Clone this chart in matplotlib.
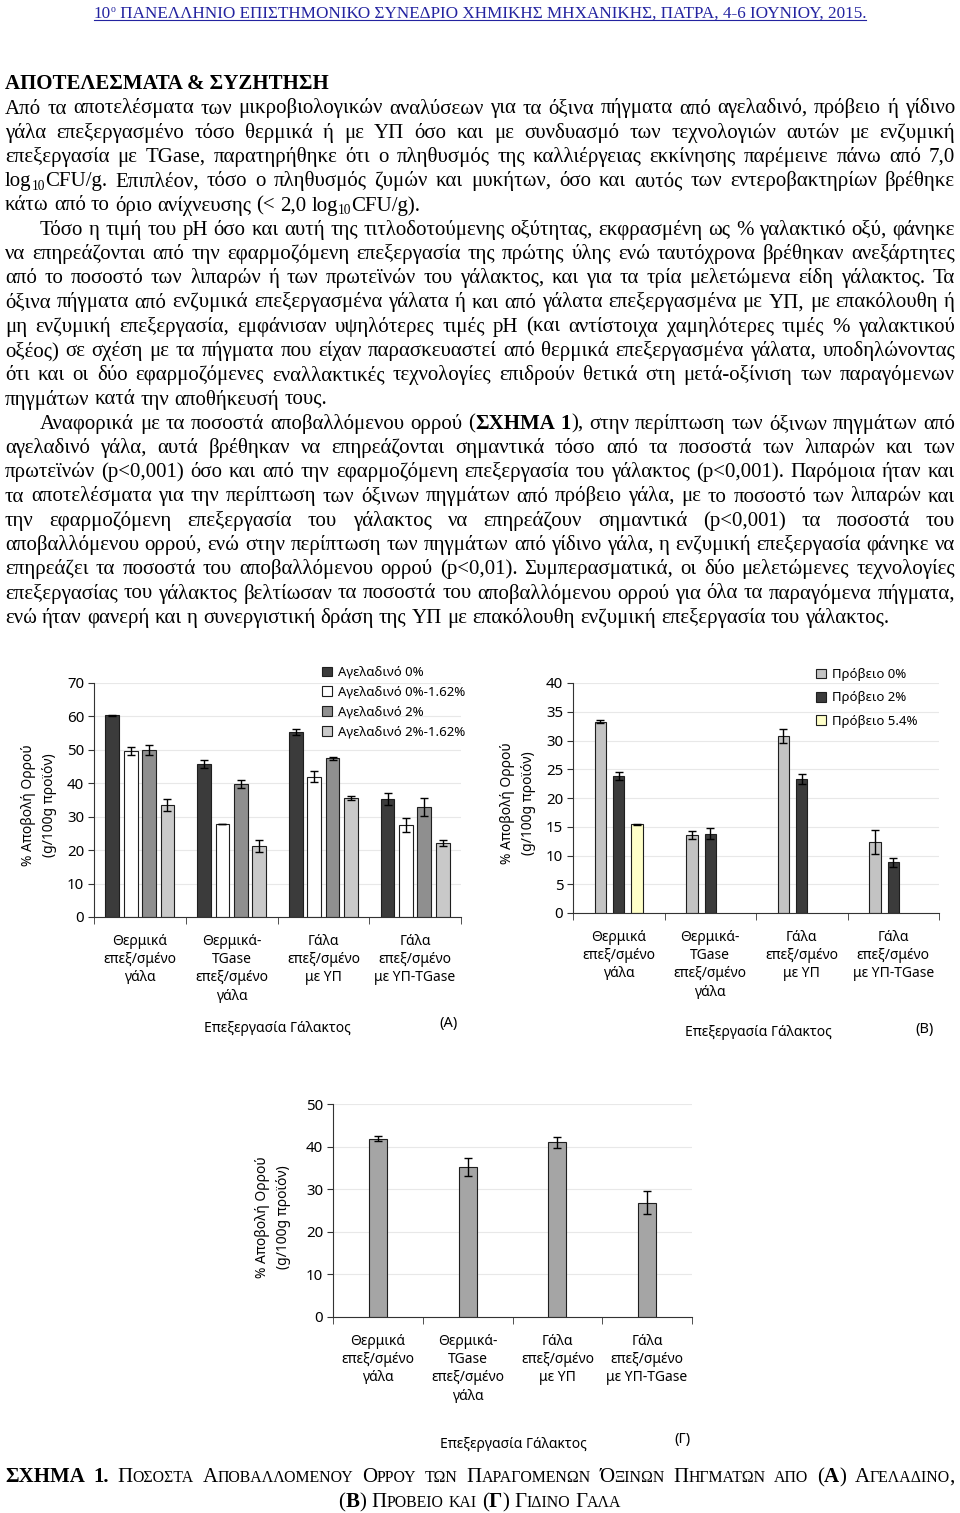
import unicodedata
import matplotlib
matplotlib.use("Agg")
import matplotlib.pyplot as plt

W, H = 960, 1513
SERIF = "Liberation Serif"
SANS = "Noto Sans"
plt.rcParams["font.family"] = [SANS, "DejaVu Sans"]

# ---- chart data ----
categories = ["Θερμικά\nεπεξ/σμένο\nγάλα", "Θερμικά-\nTGase\nεπεξ/σμένο\nγάλα",
              "Γάλα\nεπεξ/σμένο\nμε ΥΠ", "Γάλα\nεπεξ/σμένο\nμε ΥΠ-TGase"]

cow_names = ["Αγελαδινό 0%", "Αγελαδινό 0%-1.62%", "Αγελαδινό 2%", "Αγελαδινό 2%-1.62%"]
cow_vals = [[60.3, 45.7, 55.3, 35.3],
            [49.7, 27.8, 42.0, 27.5],
            [50.0, 39.7, 47.5, 33.0],
            [33.5, 21.2, 35.6, 22.1]]
cow_errs = [[0.1, 1.2, 0.8, 1.8],
            [1.2, 0.1, 1.6, 2.0],
            [1.5, 1.2, 0.5, 2.7],
            [1.8, 1.8, 0.7, 0.8]]
cow_colors = ["#3b3b3b", "#ffffff", "#8f8f8f", "#c9c9c9"]

sheep_names = ["Πρόβειο 0%", "Πρόβειο 2%", "Πρόβειο 5.4%"]
sheep_vals = [[33.3, 13.6, 30.8, 12.3],
              [23.8, 13.8, 23.3, 8.8],
              [15.4, float("nan"), float("nan"), float("nan")]]
sheep_errs = [[0.3, 0.7, 1.2, 2.1],
              [0.75, 1.0, 0.8, 0.8],
              [0.15, 0, 0, 0]]
sheep_colors = ["#c3c3c3", "#3b3b3b", "#ffffc8"]

goat_vals = [41.8, 35.2, 41.0, 26.8]
goat_errs = [0.6, 2.2, 1.3, 2.7]
goat_color = "#a5a5a5"

ylabel = "% Αποβολή Ορρού\n(g/100g προϊόν)"
xlabel = "Επεξεργασία Γάλακτος"

# ---- page text ----
heading = "ΑΠΟΤΕΛΕΣΜΑΤΑ & ΣΥΖΗΤΗΣΗ"
body = [
    (0, True, "Από τα αποτελέσματα των μικροβιολογικών αναλύσεων για τα όξινα πήγματα από αγελαδινό, πρόβειο ή γίδινο"),
    (0, True, "γάλα επεξεργασμένο τόσο θερμικά ή με ΥΠ όσο και με συνδυασμό των τεχνολογιών αυτών με ενζυμική"),
    (0, True, "επεξεργασία με TGase, παρατηρήθηκε ότι ο πληθυσμός της καλλιέργειας εκκίνησης παρέμεινε πάνω από 7,0"),
    (0, True, "log{10}CFU/g. Επιπλέον, τόσο ο πληθυσμός ζυμών και μυκήτων, όσο και αυτός των εντεροβακτηρίων βρέθηκε"),
    (0, False, "κάτω από το όριο ανίχνευσης (< 2,0 log{10}CFU/g)."),
    (1, True, "Τόσο η τιμή του pH όσο και αυτή της τιτλοδοτούμενης οξύτητας, εκφρασμένη ως % γαλακτικό οξύ, φάνηκε"),
    (0, True, "να επηρεάζονται από την εφαρμοζόμενη επεξεργασία της πρώτης ύλης ενώ ταυτόχρονα βρέθηκαν ανεξάρτητες"),
    (0, True, "από το ποσοστό των λιπαρών ή των πρωτεϊνών του γάλακτος, και για τα τρία μελετώμενα είδη γάλακτος. Τα"),
    (0, True, "όξινα πήγματα από ενζυμικά επεξεργασμένα γάλατα ή και από γάλατα επεξεργασμένα με ΥΠ, με επακόλουθη ή"),
    (0, True, "μη ενζυμική επεξεργασία, εμφάνισαν υψηλότερες τιμές pH (και αντίστοιχα χαμηλότερες τιμές % γαλακτικού"),
    (0, True, "οξέος) σε σχέση με τα πήγματα που είχαν παρασκευαστεί από θερμικά επεξεργασμένα γάλατα, υποδηλώνοντας"),
    (0, True, "ότι και οι δύο εφαρμοζόμενες εναλλακτικές τεχνολογίες επιδρούν θετικά στη μετά-οξίνιση των παραγόμενων"),
    (0, False, "πηγμάτων κατά την αποθήκευσή τους."),
    (1, True, "Αναφορικά με τα ποσοστά αποβαλλόμενου ορρού (*ΣΧΗΜΑ* *1*), στην περίπτωση των όξινων πηγμάτων από"),
    (0, True, "αγελαδινό γάλα, αυτά βρέθηκαν να επηρεάζονται σημαντικά τόσο από τα ποσοστά των λιπαρών και των"),
    (0, True, "πρωτεϊνών (p<0,001) όσο και από την εφαρμοζόμενη επεξεργασία του γάλακτος (p<0,001). Παρόμοια ήταν και"),
    (0, True, "τα αποτελέσματα για την περίπτωση των όξινων πηγμάτων από πρόβειο γάλα, με το ποσοστό των λιπαρών και"),
    (0, True, "την εφαρμοζόμενη επεξεργασία του γάλακτος να επηρεάζουν σημαντικά (p<0,001) τα ποσοστά του"),
    (0, True, "αποβαλλόμενου ορρού, ενώ στην περίπτωση των πηγμάτων από γίδινο γάλα, η ενζυμική επεξεργασία φάνηκε να"),
    (0, True, "επηρεάζει τα ποσοστά του αποβαλλόμενου ορρού (p<0,01). Συμπερασματικά, οι δύο μελετώμενες τεχνολογίες"),
    (0, True, "επεξεργασίας του γάλακτος βελτίωσαν τα ποσοστά του αποβαλλόμενου ορρού για όλα τα παραγόμενα πήγματα,"),
    (0, False, "ενώ ήταν φανερή και η συνεργιστική δράση της ΥΠ με επακόλουθη ενζυμική επεξεργασία του γάλακτος."),
]
caption1 = "*ΣΧΗΜΑ* *1.* Ποσοστα Αποβαλλομενου Ορρου των Παραγομενων Όξινων Πηγματων απο (*Α*) Αγελαδινο,"
caption2 = "(*Β*) Προβειο και (*Γ*) Γιδινο Γαλα"

fig = plt.figure(figsize=(9.6, 15.13), dpi=100)
renderer = fig.canvas.get_renderer()


def fx(x):
    return x / W


def fy(y):
    return 1 - y / H


def parse(word, size, sc=False):
    # * toggles bold, {..} is a subscript, sc = small caps
    segs = []
    bold = sub = False
    for ch in unicodedata.normalize("NFC", word):
        if ch == "*":
            bold = not bold
            continue
        if ch == "{":
            sub = True
            continue
        if ch == "}":
            sub = False
            continue
        sz, c = size, ch
        if sub:
            sz = size * 0.65
        elif sc and ch.islower():
            sz, c = size * 0.76, ch.upper()
        key = (sz, "bold" if bold else "normal", 4 if sub else 0)
        if segs and segs[-1][1:] == key:
            segs[-1] = (segs[-1][0] + c,) + key
        else:
            segs.append((c,) + key)
    return segs


def draw_line(y, x0, x1, text, size, justify=True, center=False, sc=False):
    words = []
    for wd in text.split():
        items = []
        for s, sz, wt, dy in parse(wd, size, sc):
            t = fig.text(0, 0, s, fontsize=sz, fontweight=wt, family=SERIF, va="baseline")
            items.append((t, t.get_window_extent(renderer).width, dy))
        words.append(items)
    widths = [sum(w for _, w, _ in it) for it in words]
    space = size * 100 / 72 * 0.25
    if justify and len(words) > 1:
        space = (x1 - x0 - sum(widths)) / (len(words) - 1)
    if center:
        x0 = (x0 + x1) / 2 - (sum(widths) + space * (len(words) - 1)) / 2
    x = x0
    for items in words:
        for t, w, dy in items:
            t.set_position((fx(x), fy(y + dy)))
            x += w
        x += space


# header
blue = "#2323a0"
hd = fig.text(0, 0, "10", fontsize=12.3, family=SERIF, color=blue, va="baseline")
sup = fig.text(0, 0, "o", fontsize=7, family=SERIF, color=blue, va="baseline")
rest = fig.text(0, 0, " ΠΑΝΕΛΛΗΝΙΟ ΕΠΙΣΤΗΜΟΝΙΚΟ ΣΥΝΕΔΡΙΟ ΧΗΜΙΚΗΣ ΜΗΧΑΝΙΚΗΣ, ΠΑΤΡΑ, 4-6 ΙΟΥΝΙΟΥ, 2015.",
                fontsize=12.3, family=SERIF, color=blue, va="baseline")
w1 = hd.get_window_extent(renderer).width
w2 = sup.get_window_extent(renderer).width
w3 = rest.get_window_extent(renderer).width
hx = 480 - (w1 + w2 + w3) / 2
hd.set_position((fx(hx), fy(18)))
sup.set_position((fx(hx + w1), fy(12)))
rest.set_position((fx(hx + w1 + w2), fy(18)))
fig.add_artist(plt.Line2D([fx(hx), fx(hx + w1 + w2 + w3)], [fy(20), fy(20)],
                          color=blue, linewidth=0.8))

# body text
BS = 15
fig.text(fx(5), fy(89), heading, fontsize=BS, fontweight="bold", family=SERIF, va="baseline")
for k, (indent, just, line) in enumerate(body):
    draw_line(113.5 + 24.25 * k, 5 + 35 * indent, 955, line, BS, justify=just)

# caption
draw_line(1482, 5, 955, caption1, 15, justify=True, sc=True)
draw_line(1507, 5, 955, caption2, 15, justify=False, center=True, sc=True)


def bar_panel(box, values, errors, colors, width, offsets, ymax, ystep):
    x0, y0, x1, y1 = box
    ax = fig.add_axes([fx(x0), fy(y1), (x1 - x0) / W, (y1 - y0) / H])
    handles = []
    for vals, errs, col, off in zip(values, errors, colors, offsets):
        xs = [i + off for i in range(len(vals))]
        b = ax.bar(xs, vals, width, color=col, edgecolor="#1e1e1e", linewidth=0.8, zorder=2)
        ax.errorbar(xs, vals, yerr=errs, fmt="none", ecolor="black", elinewidth=1.0,
                    capsize=2.7, capthick=1.0, zorder=3)
        handles.append(b)
    ax.set_xlim(-0.5, len(categories) - 0.5)
    ax.set_ylim(0, ymax)
    ax.set_yticks(range(0, ymax + 1, ystep))
    ax.yaxis.grid(True, color="#e8e8e8", linewidth=0.8)
    ax.set_axisbelow(True)
    for s in ("top", "right"):
        ax.spines[s].set_visible(False)
    for s in ("left", "bottom"):
        ax.spines[s].set_color("#333333")
    ax.set_xticks(range(len(categories)))
    ax.set_xticklabels(categories, fontsize=10, linespacing=1.3)
    ax.set_xticks([i - 0.5 for i in range(len(categories) + 1)], minor=True)
    ax.tick_params(axis="x", which="major", length=0, pad=12)
    ax.tick_params(axis="x", which="minor", length=5, direction="out", color="#333333")
    ax.tick_params(axis="y", length=4, direction="out", labelsize=10.8, pad=3, color="#333333")
    return ax, handles


def labels(ylx, yly, xlx, xly, tag, tx, ty):
    fig.text(fx(ylx), fy(yly), ylabel, rotation=90, ha="center", va="center",
             fontsize=10, linespacing=1.5)
    fig.text(fx(xlx), fy(xly), xlabel, ha="center", va="center", fontsize=10)
    fig.text(fx(tx), fy(ty), tag, ha="center", va="center", fontsize=10.5)


# (A) cow milk
ax, hs = bar_panel((94, 683, 461, 917), cow_vals, cow_errs, cow_colors, 0.15,
                   [-0.3, -0.1, 0.1, 0.3], 70, 10)
fig.legend(hs, cow_names, loc="upper left", bbox_to_anchor=(fx(322), fy(666)), frameon=False,
           fontsize=9.5, handlelength=0.75, handleheight=0.75, handletextpad=0.45,
           labelspacing=0.52, borderpad=0, borderaxespad=0)
labels(39, 805, 277, 1028, "(A)", 449, 1024)

# (B) sheep milk
ax, hs = bar_panel((573, 683, 939, 913), sheep_vals, sheep_errs, sheep_colors, 0.125,
                   [-0.2, 0.0, 0.2], 40, 5)
fig.legend(hs, sheep_names, loc="upper left", bbox_to_anchor=(fx(816), fy(668)), frameon=False,
           fontsize=9.5, handlelength=0.75, handleheight=0.75, handletextpad=0.45,
           labelspacing=0.78, borderpad=0, borderaxespad=0)
labels(518, 803, 758, 1033, "(B)", 925, 1030)

# (Γ) goat milk
ax, hs = bar_panel((333, 1104, 692, 1317), [goat_vals], [goat_errs], [goat_color], 0.2,
                   [0.0], 50, 10)
labels(273, 1217, 513, 1444, "(Γ)", 682, 1439)

fig.savefig("out.png", dpi=100)
